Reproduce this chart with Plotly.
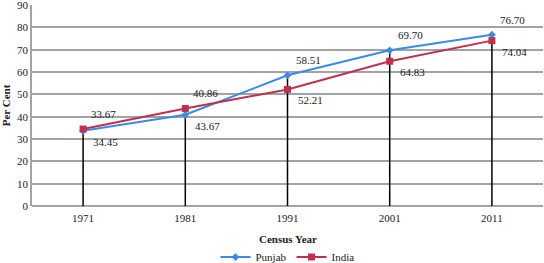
import plotly.graph_objects as go

years = [1971, 1981, 1991, 2001, 2011]
punjab = [33.67, 40.86, 58.51, 69.70, 76.70]
india = [34.45, 43.67, 52.21, 64.83, 74.04]
upper_labels = ["33.67", "40.86", "58.51", "69.70", "76.70"]
lower_labels = ["34.45", "43.67", "52.21", "64.83", "74.04"]
y_ticks = [0, 10, 20, 30, 40, 50, 60, 70, 80, 90]

BLUE = "#3b8ae6"
RED = "#c0304c"
GRID = "#a3a3a3"
FONT = "Liberation Serif"

tops = [max(a, b) for a, b in zip(punjab, india)]
bottoms = [min(a, b) for a, b in zip(punjab, india)]

fig = go.Figure()

# drop lines from the highest point of each year down to zero
fig.add_trace(go.Scatter(
    x=years, y=tops, mode="markers",
    marker=dict(size=1, color="rgba(0,0,0,0)"),
    error_y=dict(type="data", symmetric=False, array=[0] * len(tops),
                 arrayminus=tops, color="black", thickness=1.5, width=0),
    showlegend=False, hoverinfo="skip",
))

fig.add_trace(go.Scatter(
    x=years, y=punjab, mode="lines+markers", name="Punjab",
    line=dict(color=BLUE, width=2),
    marker=dict(symbol="diamond", size=6, color=BLUE),
))
fig.add_trace(go.Scatter(
    x=years, y=india, mode="lines+markers", name="India",
    line=dict(color=RED, width=2),
    marker=dict(symbol="square", size=7, color=RED),
))

for yr, t, b, lt, lb in zip(years, tops, bottoms, upper_labels, lower_labels):
    fig.add_annotation(x=yr, y=t, text=lt, showarrow=False, xanchor="left",
                       yanchor="middle", xshift=6, yshift=15,
                       font=dict(family=FONT, size=11, color="#222"))
    fig.add_annotation(x=yr, y=b, text=lb, showarrow=False, xanchor="left",
                       yanchor="middle", xshift=8, yshift=-11,
                       font=dict(family=FONT, size=11, color="#222"))

# x-axis title
fig.add_annotation(x=0.5, xref="paper", y=0, yref="paper", yanchor="top",
                   yshift=-25, text="<b>Census Year</b>", showarrow=False,
                   font=dict(family=FONT, size=11, color="#222"))

fig.update_layout(
    width=544, height=263,
    margin=dict(l=32, r=1, t=5, b=57, autoexpand=False),
    paper_bgcolor="white", plot_bgcolor="white",
    font=dict(family=FONT, size=11, color="#222"),
    xaxis=dict(
        range=[1966, 2016], tickvals=years, showgrid=False, ticks="", showline=False,
        zeroline=False, automargin=False, ticklabelstandoff=4,
        tickfont=dict(family=FONT, size=11),
    ),
    yaxis=dict(
        range=[0, 90], tickvals=y_ticks, showgrid=True, gridcolor=GRID, gridwidth=1.5,
        zeroline=True, zerolinecolor=GRID, zerolinewidth=1.5,
        showline=True, linecolor=GRID, linewidth=1.5, ticks="",
        automargin=False, ticklabeloverflow="allow",
        tickfont=dict(family=FONT, size=11),
        title=dict(text="<b>Per Cent</b>", font=dict(family=FONT, size=11)),
    ),
    legend=dict(orientation="h", x=0.5, xanchor="center", xref="paper",
                y=-0.254, yanchor="middle", yref="paper",
                font=dict(family=FONT, size=11), itemwidth=30, tracegroupgap=0),
    showlegend=True,
)

fig.write_html("out.html", config={"displayModeBar": False},
               post_script="document.body.style.margin='0';")
